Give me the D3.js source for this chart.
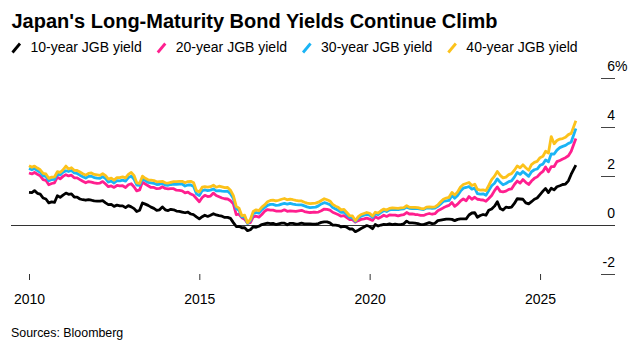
<!DOCTYPE html>
<html>
<head>
<meta charset="utf-8">
<script src="https://cdn.jsdelivr.net/npm/d3@7"></script>
<style>
  html, body { margin: 0; padding: 0; background: #fff; }
  svg { display: block; font-family: "Liberation Sans", Arial, Helvetica, sans-serif; }
</style>
</head>
<body>
<svg id="chart" width="638" height="350"></svg>
<script>
const title = "Japan's Long-Maturity Bond Yields Continue Climb";
const source = "Sources: Bloomberg";
const seriesNames = ["10-year JGB yield", "20-year JGB yield", "30-year JGB yield", "40-year JGB yield"];
const seriesColors = ["#000000", "#ff1f8f", "#1ab4f5", "#fcc21b"];
const xTickYears = [2010, 2015, 2020, 2025];
const yTicks = [-2, 0, 2, 4, 6];

// monthly observations Jan 2010 ... Dec 2025, plus latest (Jan 2026)
const dates = d3.timeMonth.range(new Date(2010, 0, 1), new Date(2026, 0, 1)).concat([new Date(2026, 0, 20)]);

const y10 = [
  1.33, 1.32, 1.40, 1.29, 1.26, 1.10, 1.06, 0.90, 0.94, 0.92, 1.19, 1.13,
  1.22, 1.30, 1.25, 1.27, 1.14, 1.14, 1.06, 1.03, 1.01, 1.03, 1.01, 0.98,
  0.97, 0.97, 0.99, 0.90, 0.83, 0.84, 0.76, 0.81, 0.78, 0.78, 0.71, 0.79,
  0.74, 0.67, 0.55, 0.60, 0.90, 0.85, 0.80, 0.73, 0.68, 0.60, 0.62, 0.74,
  0.62, 0.59, 0.64, 0.62, 0.57, 0.56, 0.53, 0.50, 0.53, 0.45, 0.42, 0.33,
  0.25, 0.34, 0.40, 0.35, 0.40, 0.46, 0.41, 0.38, 0.36, 0.31, 0.31, 0.27,
  0.10, -0.06, -0.05, -0.11, -0.11, -0.23, -0.19, -0.07, -0.09, -0.05, 0.02, 0.05,
  0.08, 0.06, 0.07, 0.02, 0.05, 0.08, 0.08, 0.01, 0.07, 0.07, 0.04, 0.05,
  0.08, 0.05, 0.05, 0.05, 0.04, 0.04, 0.06, 0.11, 0.13, 0.13, 0.09, 0.00,
  0.00, -0.02, -0.08, -0.05, -0.09, -0.16, -0.16, -0.27, -0.21, -0.14, -0.08, -0.02,
  -0.06, -0.15, 0.02, -0.04, 0.00, 0.03, 0.02, 0.05, 0.02, 0.04, 0.02, 0.02,
  0.05, 0.16, 0.09, 0.09, 0.08, 0.06, 0.02, 0.02, 0.06, 0.10, 0.06, 0.07,
  0.18, 0.20, 0.22, 0.24, 0.24, 0.23, 0.18, 0.23, 0.25, 0.25, 0.25, 0.41,
  0.49, 0.50, 0.32, 0.39, 0.43, 0.40, 0.60, 0.65, 0.77, 0.95, 0.67, 0.61,
  0.73, 0.71, 0.73, 0.88, 1.07, 1.06, 1.05, 0.90, 0.86, 0.95, 1.05, 1.10,
  1.24, 1.38, 1.49, 1.32, 1.50, 1.43, 1.56, 1.60, 1.65, 1.67, 1.80, 2.07,
  2.44
];
const y20 = [
  2.12, 2.08, 2.14, 2.07, 2.00, 1.85, 1.82, 1.64, 1.69, 1.72, 1.95, 1.88,
  1.98, 2.05, 2.00, 2.03, 1.92, 1.92, 1.85, 1.78, 1.72, 1.77, 1.75, 1.72,
  1.70, 1.71, 1.77, 1.67, 1.56, 1.59, 1.53, 1.61, 1.59, 1.60, 1.53, 1.64,
  1.68, 1.55, 1.39, 1.43, 1.75, 1.67, 1.60, 1.53, 1.53, 1.48, 1.49, 1.56,
  1.49, 1.47, 1.48, 1.48, 1.42, 1.41, 1.39, 1.31, 1.34, 1.26, 1.21, 1.08,
  0.95, 1.12, 1.21, 1.16, 1.18, 1.30, 1.20, 1.15, 1.10, 1.07, 1.06, 0.99,
  0.86, 0.42, 0.44, 0.30, 0.24, 0.08, 0.10, 0.33, 0.36, 0.32, 0.43, 0.56,
  0.63, 0.61, 0.61, 0.57, 0.57, 0.57, 0.62, 0.56, 0.58, 0.57, 0.56, 0.58,
  0.60, 0.55, 0.53, 0.51, 0.52, 0.52, 0.53, 0.58, 0.65, 0.64, 0.61, 0.52,
  0.47, 0.42, 0.36, 0.38, 0.30, 0.22, 0.22, 0.12, 0.18, 0.23, 0.25, 0.28,
  0.24, 0.19, 0.34, 0.27, 0.33, 0.40, 0.35, 0.41, 0.40, 0.40, 0.37, 0.40,
  0.42, 0.51, 0.45, 0.45, 0.43, 0.42, 0.39, 0.39, 0.44, 0.47, 0.44, 0.46,
  0.58, 0.64, 0.70, 0.76, 0.80, 0.92, 0.76, 0.85, 0.98, 1.06, 0.99, 1.16,
  1.05, 1.13, 1.05, 1.03, 1.02, 0.97, 1.08, 1.20, 1.40, 1.55, 1.37, 1.35,
  1.38, 1.45, 1.47, 1.65, 1.79, 1.71, 1.85, 1.74, 1.65, 1.79, 1.90, 1.96,
  2.09, 2.18, 2.36, 2.17, 2.38, 2.38, 2.58, 2.63, 2.69, 2.74, 2.82, 3.00,
  3.52
];
const y30 = [
  2.30, 2.25, 2.30, 2.22, 2.15, 2.00, 1.98, 1.80, 1.85, 1.86, 2.07, 2.04,
  2.15, 2.21, 2.18, 2.22, 2.12, 2.10, 2.03, 1.97, 1.91, 1.98, 1.99, 1.93,
  1.91, 1.90, 1.97, 1.89, 1.75, 1.79, 1.71, 1.81, 1.80, 1.83, 1.79, 1.93,
  1.99, 1.86, 1.63, 1.62, 1.88, 1.81, 1.74, 1.72, 1.70, 1.65, 1.66, 1.69,
  1.63, 1.62, 1.65, 1.67, 1.66, 1.67, 1.67, 1.59, 1.63, 1.63, 1.57, 1.27,
  1.20, 1.40, 1.43, 1.40, 1.42, 1.47, 1.39, 1.40, 1.38, 1.37, 1.38, 1.27,
  1.08, 0.67, 0.60, 0.33, 0.34, 0.06, 0.18, 0.46, 0.51, 0.48, 0.63, 0.71,
  0.80, 0.84, 0.84, 0.80, 0.81, 0.85, 0.88, 0.85, 0.88, 0.85, 0.83, 0.82,
  0.82, 0.78, 0.74, 0.71, 0.72, 0.73, 0.78, 0.86, 0.91, 0.88, 0.83, 0.71,
  0.65, 0.59, 0.52, 0.53, 0.42, 0.31, 0.30, 0.15, 0.28, 0.36, 0.40, 0.43,
  0.40, 0.31, 0.46, 0.42, 0.51, 0.59, 0.55, 0.62, 0.64, 0.63, 0.63, 0.65,
  0.66, 0.73, 0.68, 0.67, 0.68, 0.67, 0.65, 0.63, 0.69, 0.70, 0.68, 0.69,
  0.76, 0.86, 0.96, 0.98, 1.00, 1.21, 1.09, 1.20, 1.38, 1.50, 1.53, 1.57,
  1.46, 1.50, 1.28, 1.26, 1.27, 1.21, 1.40, 1.60, 1.70, 1.88, 1.74, 1.64,
  1.69, 1.77, 1.80, 1.95, 2.14, 2.06, 2.18, 2.08, 1.98, 2.17, 2.25, 2.28,
  2.43, 2.48, 2.65, 2.57, 2.90, 2.89, 3.05, 3.15, 3.20, 3.24, 3.32, 3.38,
  3.93
];
const y40 = [
  2.41, 2.35, 2.40, 2.32, 2.25, 2.10, 2.08, 1.90, 1.95, 1.96, 2.17, 2.14,
  2.25, 2.40, 2.28, 2.33, 2.23, 2.22, 2.16, 2.09, 2.03, 2.10, 2.12, 2.06,
  2.04, 2.02, 2.09, 2.01, 1.87, 1.91, 1.83, 1.93, 1.93, 1.96, 1.92, 2.06,
  2.14, 2.01, 1.72, 1.70, 1.99, 1.90, 1.84, 1.83, 1.81, 1.76, 1.77, 1.78,
  1.72, 1.71, 1.74, 1.77, 1.77, 1.78, 1.78, 1.72, 1.77, 1.78, 1.72, 1.40,
  1.35, 1.54, 1.56, 1.54, 1.56, 1.62, 1.54, 1.58, 1.55, 1.52, 1.53, 1.42,
  1.20, 0.76, 0.69, 0.38, 0.40, 0.09, 0.23, 0.55, 0.62, 0.59, 0.73, 0.82,
  0.95, 1.00, 1.01, 0.98, 1.01, 1.05, 1.08, 1.03, 1.05, 1.03, 1.00, 0.98,
  0.98, 0.93, 0.89, 0.87, 0.88, 0.89, 0.93, 1.00, 1.07, 1.03, 0.98, 0.84,
  0.77, 0.71, 0.62, 0.64, 0.51, 0.38, 0.37, 0.18, 0.34, 0.43, 0.47, 0.51,
  0.48, 0.37, 0.52, 0.49, 0.58, 0.65, 0.61, 0.68, 0.70, 0.69, 0.68, 0.70,
  0.71, 0.79, 0.73, 0.72, 0.72, 0.71, 0.68, 0.66, 0.73, 0.74, 0.73, 0.74,
  0.82, 0.95, 1.05, 1.10, 1.13, 1.33, 1.22, 1.35, 1.55, 1.65, 1.69, 1.73,
  1.61, 1.66, 1.45, 1.42, 1.43, 1.40, 1.61, 1.85, 1.99, 2.18, 2.02, 1.92,
  1.95, 2.05, 2.09, 2.23, 2.40, 2.33, 2.45, 2.33, 2.23, 2.46, 2.55, 2.59,
  2.74, 2.80, 3.00, 2.93, 3.60, 3.31, 3.44, 3.50, 3.52, 3.57, 3.68, 3.73,
  4.24
];
const seriesValues = [y10, y20, y30, y40];

const svg = d3.select("#chart");

const x = d3.scaleTime()
  .domain([new Date(2010, 0, 1), new Date(2026, 0, 1)])
  .range([29, 574.1]);
const y = d3.scaleLinear().domain([-2, 6]).range([274.2, 77.6]);

// Title
const t = svg.append("text")
  .attr("x", 11.5).attr("y", 28)
  .attr("font-size", 20).attr("font-weight", "bold").attr("fill", "#000")
  .text(title);
const tw = t.node().getComputedTextLength();
if (Math.abs(tw - 488) > 3) t.attr("font-size", 20 * 488 / tw);

// Legend
let lx = 11.5;
seriesNames.forEach((name, i) => {
  const g = svg.append("g");
  g.append("line")
    .attr("x1", lx + 1).attr("y1", 52.5).attr("x2", lx + 8.5).attr("y2", 43.5)
    .attr("stroke", seriesColors[i]).attr("stroke-width", 2.8).attr("stroke-linecap", "butt");
  const tt = g.append("text")
    .attr("x", lx + 19).attr("y", 52)
    .attr("font-size", 14).attr("fill", "#000")
    .text(name);
  lx = lx + 19 + tt.node().getComputedTextLength() + 15;
});

// Y axis (right side, short tick lines with labels above)
const yAxis = svg.append("g");
yTicks.forEach(v => {
  yAxis.append("line")
    .attr("x1", 601).attr("x2", 615)
    .attr("y1", Math.round(y(v)) + 0.5).attr("y2", Math.round(y(v)) + 0.5)
    .attr("stroke", "#444").attr("stroke-width", 1);
  yAxis.append("text")
    .attr("x", 615).attr("y", y(v) - 7)
    .attr("text-anchor", "end").attr("font-size", 14).attr("fill", "#000")
    .text(v);
  if (v === 6) {
    yAxis.append("text")
      .attr("x", 615).attr("y", y(v) - 7)
      .attr("font-size", 14).attr("fill", "#000")
      .text("%");
  }
});

// Zero line
svg.append("line")
  .attr("x1", 11).attr("x2", 615)
  .attr("y1", Math.round(y(0)) + 0.5).attr("y2", Math.round(y(0)) + 0.5)
  .attr("stroke", "#333").attr("stroke-width", 1);

// X axis
const xAxis = svg.append("g").attr("transform", "translate(0,274)")
  .call(d3.axisBottom(x)
    .tickValues(xTickYears.map(yr => new Date(yr, 0, 1)))
    .tickFormat(d3.timeFormat("%Y"))
    .tickSize(6).tickPadding(14));
xAxis.select(".domain").remove();
xAxis.selectAll(".tick line").attr("stroke", "#333");
xAxis.selectAll(".tick text")
  .attr("font-size", 14).attr("fill", "#000")
  .attr("font-family", "'Liberation Sans', Arial, sans-serif");

// Lines
const line = d3.line()
  .x((d, i) => x(dates[i]))
  .y(d => y(d));
seriesValues.forEach((vals, i) => {
  svg.append("path")
    .datum(vals)
    .attr("fill", "none")
    .attr("stroke", seriesColors[i])
    .attr("stroke-width", 2.8)
    .attr("stroke-linejoin", "round")
    .attr("d", line);
});

// Source
svg.append("text")
  .attr("x", 11).attr("y", 337)
  .attr("font-size", 12.4).attr("fill", "#000")
  .text(source);
</script>
</body>
</html>
